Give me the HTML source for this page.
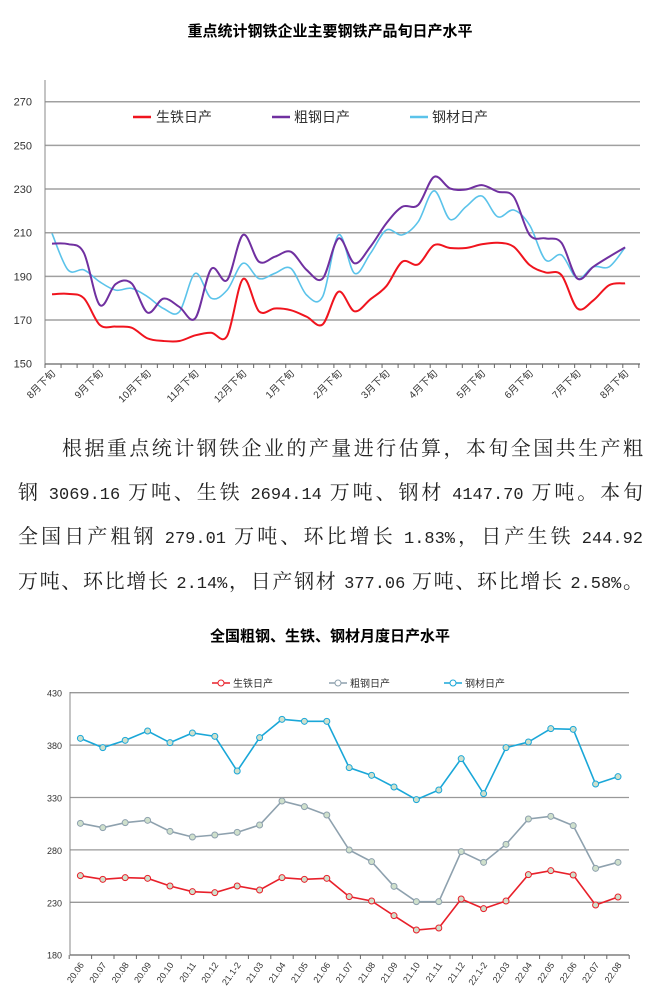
<!DOCTYPE html>
<html><head><meta charset="utf-8">
<style>
html,body{margin:0;padding:0;background:#fff;width:660px;height:998px;overflow:hidden;}
body{position:relative;font-family:"Liberation Sans","Noto Sans CJK SC",sans-serif;}
.t{position:absolute;font-weight:bold;color:#000;}
.p{position:absolute;left:18px;width:625px;font-family:"Liberation Serif","Noto Serif CJK SC",serif;font-size:20px;line-height:44px;color:#222;text-align:justify;text-align-last:justify;white-space:nowrap;}
.n{font-family:"Liberation Mono",monospace;font-size:17px;}
svg{position:absolute;left:0;top:0;}
svg text{font-family:"Liberation Sans","Noto Sans CJK SC",sans-serif;}
</style></head><body>
<div class="t" style="left:0;width:660px;text-align:center;top:20px;font-size:15px;">重点统计钢铁企业主要钢铁产品旬日产水平</div>
<div class="p" style="top:427px;left:62px;width:581px;">根据重点统计钢铁企业的产量进行估算，本旬全国共生产粗</div>
<div class="p" style="top:471px;">钢 <span class="n">3069.16</span> 万吨、生铁 <span class="n">2694.14</span> 万吨、钢材 <span class="n">4147.70</span> 万吨。本旬</div>
<div class="p" style="top:515px;">全国日产粗钢 <span class="n">279.01</span> 万吨、环比增长 <span class="n">1.83%</span>，日产生铁 <span class="n">244.92</span></div>
<div class="p" style="top:560px;">万吨、环比增长 <span class="n">2.14%</span>，日产钢材 <span class="n">377.06</span> 万吨、环比增长 <span class="n">2.58%</span>。</div>
<div class="t" style="left:0;width:660px;text-align:center;top:625px;font-size:15px;">全国粗钢、生铁、钢材月度日产水平</div>
<svg id="s" width="660" height="998" xmlns="http://www.w3.org/2000/svg"></svg>
<script>
var s=document.getElementById('s'),h='';
function ln(x1,y1,x2,y2,c,w){h+='<line x1="'+x1+'" y1="'+y1+'" x2="'+x2+'" y2="'+y2+'" stroke="'+c+'" stroke-width="'+w+'"/>';}
function tx(x,y,t,sz,a,tr){h+='<text x="'+x+'" y="'+y+'" font-size="'+sz+'" fill="#333" text-anchor="'+(a||'start')+'"'+(tr?' transform="'+tr+'"':'')+'>'+t+'</text>';}
function ty(v){return 363.7-(v-150)*2.183;}
for(var v=170;v<=270;v+=20){ln(45,ty(v),640,ty(v),'#a0a0a0',1.5);}
ln(45,80,45,364,'#888',1);ln(45,364,640,364,'#666',1.2);
for(var v=150;v<=270;v+=20)tx(32,ty(v)+4,v,11,'end');
for(var i=0;i<=37;i++){var x=45+i*16.05;ln(x,364,x,368,'#666',1);}
var mon=['8','9','10','11','12','1','2','3','4','5','6','7','8'];
for(var k=0;k<13;k++){var x=52+k*3*15.92+4;tx(x,374,mon[k]+'月下旬',10,'end','rotate(-45 '+x+' 374)');}
var red=[181.8,182,180,167.8,167,166.5,161.6,160.4,160.4,163,164.2,162.7,188.8,174,175.3,174.5,171.5,168,183,174,179.5,185.5,196.7,195.5,204.3,203,203,204.7,205.4,203.6,195.2,191.8,190.6,175.3,179,186,186.8];
var pur=[205,204.8,200.8,176.9,186.5,186.8,173.4,179.8,176,170.8,193.4,188.3,209,196.7,199,201.3,192.9,189,207.4,196,203.6,214.3,221.9,222.7,235.6,230.3,229.8,231.8,228.8,226.5,209,207.4,205.4,189,194.4,199,203.3];
var blu=[209.7,193,193,187.5,183.7,184.5,180.7,175.3,173.8,191.4,180,183.7,196,189,191.4,193.7,181.4,180.7,209,191.4,200.5,211.2,209,215,229.2,216.1,221.9,226.8,217.3,220.4,213.5,197.5,199.8,189,194.4,194.4,203.3];
function smooth(vals,c,w){var p=vals.map(function(v,i){return [52+i*15.92,ty(v)];});var d='M'+p[0][0]+','+p[0][1];
for(var i=0;i<p.length-1;i++){var p0=p[i-1]||p[i],p1=p[i],p2=p[i+1],p3=p[i+2]||p2;
d+=' C'+(p1[0]+(p2[0]-p0[0])/6)+','+(p1[1]+(p2[1]-p0[1])/6)+' '+(p2[0]-(p3[0]-p1[0])/6)+','+(p2[1]-(p3[1]-p1[1])/6)+' '+p2[0]+','+p2[1];}
h+='<path d="'+d+'" fill="none" stroke="'+c+'" stroke-width="'+w+'"/>';}
smooth(blu,'#5bc3ea',1.6);smooth(pur,'#7030a0',2);smooth(red,'#f0141e',2);
ln(133,117,151,117,'#f0141e',2.5);tx(156,122,'生铁日产',14);
ln(272,117,290,117,'#7030a0',2.5);tx(294,122,'粗钢日产',14);
ln(410,117,428,117,'#5bc3ea',2.5);tx(432,122,'钢材日产',14);
function by(v){return 954.7-(v-180)*1.048;}
for(var v=230;v<=430;v+=50)ln(70,by(v),629,by(v),'#999',1.3);
ln(70,692,70,955,'#888',1);ln(70,955,629,955,'#666',1.2);
for(var v=180;v<=430;v+=50)tx(62,by(v)+4,v,9,'end');
var lab=['20.06','20.07','20.08','20.09','20.10','20.11','20.12','21.1-2','21.03','21.04','21.05','21.06','21.07','21.08','21.09','21.10','21.11','21.12','22.1-2','22.03','22.04','22.05','22.06','22.07','22.08'];
for(var i=0;i<=25;i++){var x=69.2+i*22.4;ln(x,955,x,959,'#666',1);}
for(var i=0;i<25;i++){var x=80.4+i*22.4+4;tx(x,965,lab[i],9,'end','rotate(-55 '+x+' 965)');}
var B=[235,263,241,213,248,219,229,333,233,178,184,184,323,346,381,419,390,296,401,263,246,206,208,372,350];
var G=[490,503,488,481,514,531,525,517,495,423,440,465,570,605,679,725,725,575,607,553,477,469,497,625,607];
var R=[647,658,653,655,678,695,698,678,690,653,658,655,710,723,767,810,804,717,746,723,644,632,645,735,711];
function poly(a,c){var pts=a.map(function(y,i){return (80.4+i*22.4)+','+(660+y/3);});
h+='<polyline points="'+pts.join(' ')+'" fill="none" stroke="'+c+'" stroke-width="1.6"/>';
a.forEach(function(y,i){h+='<circle cx="'+(80.4+i*22.4)+'" cy="'+(660+y/3)+'" r="3" fill="#cfe0cc" stroke="'+c+'" stroke-width="1"/>';});}
poly(B,'#1aa7d8');poly(G,'#8ea1ae');poly(R,'#e8202a');
function lg(x,c,t){ln(x,683,x+18,683,c,1.6);h+='<circle cx="'+(x+9)+'" cy="683" r="3" fill="#fff" stroke="'+c+'" stroke-width="1"/>';tx(x+21,687,t,10);}
lg(212,'#e8202a','生铁日产');lg(329,'#8ea1ae','粗钢日产');lg(444,'#1aa7d8','钢材日产');
s.innerHTML=h;
</script>
</body></html>
